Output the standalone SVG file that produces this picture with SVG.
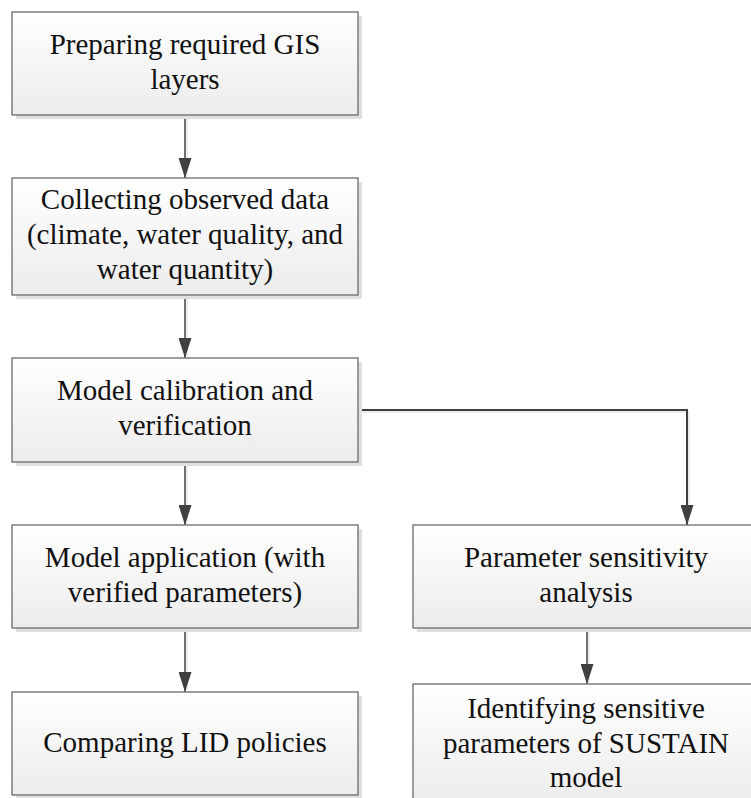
<svg xmlns="http://www.w3.org/2000/svg" width="751" height="798" viewBox="0 0 751 798">
<defs>
<linearGradient id="g" x1="0" y1="0" x2="0" y2="1">
<stop offset="0" stop-color="#ffffff"/>
<stop offset="1" stop-color="#ececec"/>
</linearGradient>
<marker id="ah" markerWidth="20" markerHeight="13" refX="20" refY="6.5" orient="auto" markerUnits="userSpaceOnUse" viewBox="0 0 20 13">
<path d="M0,0 L20,6.5 L0,13 Z" fill="#404040"/>
</marker>
</defs>
<style>
.sh{fill:#e0e0e0;stroke:none}
.bx{fill:url(#g);stroke:#6b6b6b;stroke-width:1.3}
.t{font-family:'Liberation Serif','Tinos','Times New Roman','Times','Nimbus Roman','Noto Serif','DejaVu Serif',serif;font-size:29px;fill:#111;text-anchor:middle}
.c{fill:none;stroke:#404040;stroke-width:1.5}
.cs{fill:none;stroke:#ededed;stroke-width:2}
</style>
<rect width="751" height="798" fill="#ffffff"/>
<g id="connectors">
<path class="cs" d="M187,116 V176 M187,296 V356 M187,463 V523 M187,629 V690 M360,412 H689 V523 M589,629 V682"/>
<path class="c" d="M185,115 V178" marker-end="url(#ah)"/>
<path class="c" d="M185,295 V358" marker-end="url(#ah)"/>
<path class="c" d="M185,462 V525" marker-end="url(#ah)"/>
<path class="c" d="M185,628 V692" marker-end="url(#ah)"/>
<path class="c" style="stroke-width:2" d="M358,410 H687 V525" marker-end="url(#ah)"/>
<path class="c" d="M587,628 V684" marker-end="url(#ah)"/>
</g>
<g id="n1">
<rect class="sh" x="16" y="16" width="346" height="103"/>
<rect class="bx" x="12" y="12" width="346" height="103"/>
<text class="t" x="185" y="54">Preparing required GIS</text>
<text class="t" x="185" y="89">layers</text>
</g>
<g id="n2">
<rect class="sh" x="16" y="182" width="346" height="117"/>
<rect class="bx" x="12" y="178" width="346" height="117"/>
<text class="t" x="185" y="209">Collecting observed data</text>
<text class="t" x="185" y="244">(climate, water quality, and</text>
<text class="t" x="185" y="279">water quantity)</text>
</g>
<g id="n3">
<rect class="sh" x="16" y="362" width="346" height="104"/>
<rect class="bx" x="12" y="358" width="346" height="104"/>
<text class="t" x="185" y="400">Model calibration and</text>
<text class="t" x="185" y="435">verification</text>
</g>
<g id="n4">
<rect class="sh" x="16" y="529" width="346" height="103"/>
<rect class="bx" x="12" y="525" width="346" height="103"/>
<text class="t" x="185" y="567">Model application (with</text>
<text class="t" x="185" y="602">verified parameters)</text>
</g>
<g id="n5">
<rect class="sh" x="16" y="696" width="346" height="103"/>
<rect class="bx" x="12" y="692" width="346" height="103"/>
<text class="t" x="185" y="752">Comparing LID policies</text>
</g>
<g id="n6">
<rect class="sh" x="417" y="529" width="346" height="103"/>
<rect class="bx" x="413" y="525" width="346" height="103"/>
<text class="t" x="586" y="567">Parameter sensitivity</text>
<text class="t" x="586" y="602">analysis</text>
</g>
<g id="n7">
<rect class="sh" x="417" y="688" width="346" height="120"/>
<rect class="bx" x="413" y="684" width="346" height="120"/>
<text class="t" x="586" y="718">Identifying sensitive</text>
<text class="t" x="586" y="753">parameters of SUSTAIN</text>
<text class="t" x="586" y="787">model</text>
</g>
</svg>
